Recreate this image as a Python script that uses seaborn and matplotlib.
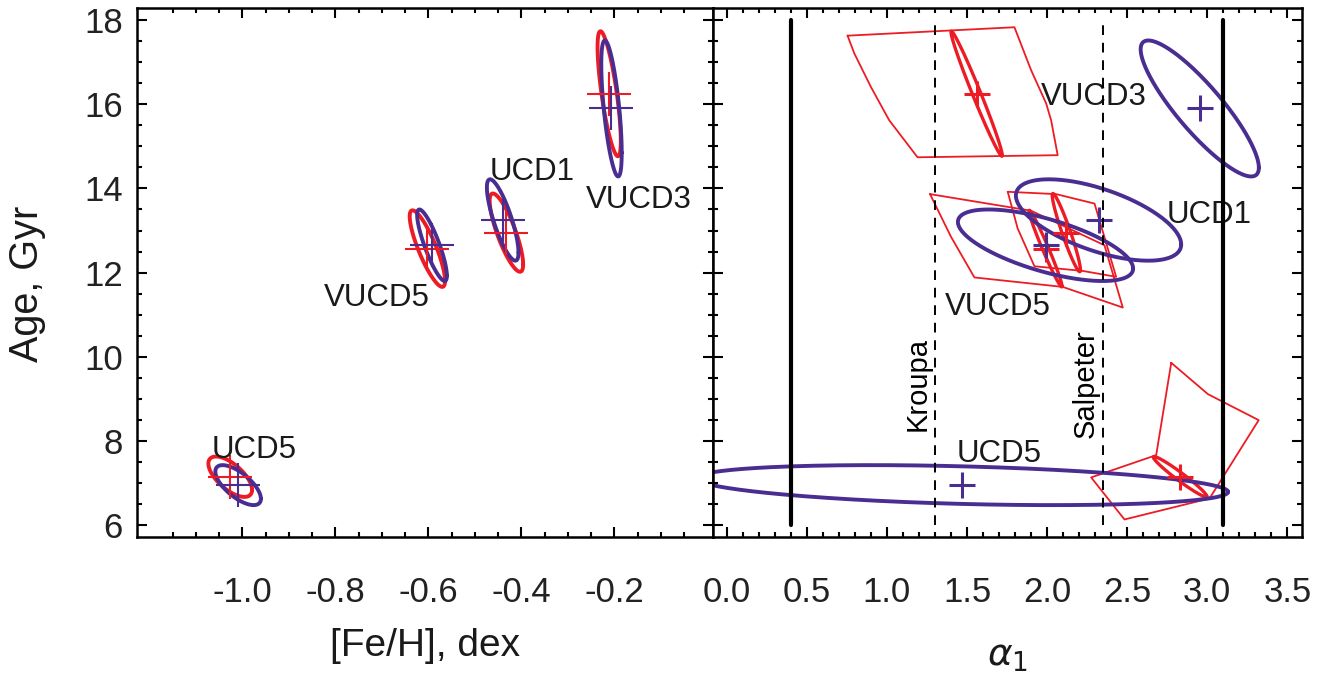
import numpy as np
import matplotlib
matplotlib.use('Agg')
import matplotlib.pyplot as plt
import seaborn as sns
from matplotlib.ticker import FixedLocator

# objects, in the order UCD5, VUCD5, UCD1, VUCD3
names = ['UCD5', 'VUCD5', 'UCD1', 'VUCD3']

# red solution
feh_red = [-1.026, -0.602, -0.432, -0.211]
age_red = [7.15, 12.57, 12.95, 16.25]
feh_err_red = [0.047, 0.038, 0.036, 0.025]
age_err_red = [0.48, 0.91, 0.93, 1.485]
rho_feh_red = [-0.65, -0.84, -0.81, -0.75]
alpha_red = [2.83, 1.99, 2.12, 1.56]
alpha_err_red = [0.167, 0.103, 0.088, 0.16]
rho_alpha_red = [-0.97, -0.98, -0.95, -0.985]

# blue solution
feh_blue = [-1.009, -0.592, -0.440, -0.206]
age_blue = [6.95, 12.65, 13.25, 15.9]
feh_err_blue = [0.049, 0.032, 0.034, 0.022]
age_err_blue = [0.475, 0.85, 0.967, 1.616]
rho_feh_blue = [-0.68, -0.85, -0.80, -0.65]
alpha_blue = [1.47, 1.99, 2.321, 2.953]
alpha_err_blue = [1.66, 0.547, 0.516, 0.369]
rho_alpha_blue = [-0.34, -0.65, -0.60, -0.87]

# red regions in the (alpha_1, age) plane
poly_alpha_ucd5 = [2.775, 3.004, 3.321, 3.014, 2.483, 2.275, 2.681, 2.775]
poly_age_ucd5 = [9.856, 9.112, 8.494, 6.633, 6.134, 7.133, 7.663, 9.856]
poly_alpha_vucd5 = [1.269, 1.900, 2.358, 2.4725, 2.0975, 1.546, 1.40, 1.269]
poly_age_vucd5 = [13.865, 13.47, 12.65, 11.17, 11.66, 11.885, 12.85, 13.865]
poly_alpha_ucd1 = [1.754, 2.056, 2.296, 2.431, 2.222, 1.921, 1.816, 1.754]
poly_age_ucd1 = [13.92, 13.865, 13.64, 11.90, 12.04, 12.15, 13.05, 13.92]
poly_alpha_vucd3 = [0.754, 1.796, 1.900, 1.994, 2.025, 2.066, 1.191, 1.014, 0.900, 0.796, 0.754]
poly_age_vucd3 = [17.63, 17.83, 16.81, 16.02, 15.62, 14.79, 14.74, 15.62, 16.41, 17.21, 17.63]

# label positions (left edge, baseline)
label_feh = [-1.065, -0.825, -0.469, -0.261]
label_age_left = [7.59, 11.2, 14.2, 13.53]
label_alpha = [1.434, 1.364, 2.744, 1.963]
label_age_right = [7.5, 10.99, 13.17, 15.98]

imf_alpha = [1.3, 2.35]
imf_names = ['Kroupa', 'Salpeter']
imf_label_age = [8.23, 8.07]
limit_alpha = [0.4, 3.1]

RED = '#ED1C24'
BLUE = '#4A2D91'


def ellipse(cx, cy, ex, ey, rho, n=300):
    t = np.linspace(0, 2 * np.pi, n)
    x = cx + ex * np.cos(t)
    y = cy + ey * (rho * np.cos(t) + np.sqrt(1 - rho ** 2) * np.sin(t))
    return x, y


sns.set_theme(style='ticks')
plt.rcParams['font.family'] = ['Liberation Sans', 'DejaVu Sans']
plt.rcParams['axes.unicode_minus'] = False
plt.rcParams['mathtext.fontset'] = 'dejavusans'

fig = plt.figure(figsize=(13.2, 6.81), dpi=100)
ax1 = fig.add_axes([0.1036, 0.211, 0.4368, 0.7768])
ax2 = fig.add_axes([0.5404, 0.211, 0.4458, 0.7768])

# left panel: [Fe/H] vs age
for i in range(len(names)):
    x, y = ellipse(feh_red[i], age_red[i], feh_err_red[i], age_err_red[i], rho_feh_red[i])
    ax1.plot(x, y, color=RED, lw=2.8, zorder=2)
for i in range(len(names)):
    x, y = ellipse(feh_blue[i], age_blue[i], feh_err_blue[i], age_err_blue[i], rho_feh_blue[i])
    ax1.plot(x, y, color=BLUE, lw=2.8, zorder=2)
sns.scatterplot(x=feh_red, y=age_red, marker='+', s=1000, color=RED, linewidth=1.5, ax=ax1, zorder=3)
sns.scatterplot(x=feh_blue, y=age_blue, marker='+', s=1000, color=BLUE, linewidth=1.5, ax=ax1, zorder=3)
for i, n in enumerate(names):
    ax1.text(label_feh[i], label_age_left[i], n, fontsize=22.5, color='#1a1a1a',
             ha='left', va='baseline')

# right panel: alpha_1 vs age
polys = [(poly_alpha_ucd5, poly_age_ucd5), (poly_alpha_vucd5, poly_age_vucd5),
         (poly_alpha_ucd1, poly_age_ucd1), (poly_alpha_vucd3, poly_age_vucd3)]
for pa, pg in polys:
    ax2.plot(pa, pg, color=RED, lw=1.3, zorder=2)
for i in range(len(names)):
    x, y = ellipse(alpha_red[i], age_red[i], alpha_err_red[i], age_err_red[i], rho_alpha_red[i])
    ax2.plot(x, y, color=RED, lw=2.4, zorder=2)
for i in range(len(names)):
    x, y = ellipse(alpha_blue[i], age_blue[i], alpha_err_blue[i], age_err_blue[i], rho_alpha_blue[i])
    ax2.plot(x, y, color=BLUE, lw=2.8, zorder=2)
sns.scatterplot(x=alpha_red, y=age_red, marker='+', s=330, color=RED, linewidth=2.2, ax=ax2, zorder=3)
sns.scatterplot(x=alpha_blue, y=age_blue, marker='+', s=330, color=BLUE, linewidth=2.2, ax=ax2, zorder=3)
for i, n in enumerate(names):
    ax2.text(label_alpha[i], label_age_right[i], n, fontsize=22.5, color='#1a1a1a',
             ha='left', va='baseline', zorder=3)
for a in limit_alpha:
    ax2.plot([a, a], [6, 18], color='black', lw=3, zorder=5)
for a, n, g in zip(imf_alpha, imf_names, imf_label_age):
    ax2.plot([a, a], [6, 18], color='black', lw=1.4, ls=(0, (5, 4)), zorder=5)
    ax2.text(a - 0.02, g, n, rotation=90, fontsize=21, color='black',
             ha='right', va='bottom', zorder=3)

# axes, ticks
for ax in (ax1, ax2):
    ax.set_ylim(5.71, 18.28)
    ax.yaxis.set_major_locator(FixedLocator(np.arange(6, 18.1, 2)))
    ax.yaxis.set_minor_locator(FixedLocator(np.arange(6, 18.1, 0.5)))
    ax.tick_params(which='both', direction='in', top=True, right=True,
                   width=1.5, colors='black', labelcolor='#222222', labelsize=25)
    ax.tick_params(which='major', length=7.5)
    ax.tick_params(which='minor', length=3.8)
    ax.tick_params(axis='x', pad=28)
    ax.tick_params(axis='y', pad=10)
    for s in ax.spines.values():
        s.set_linewidth(1.8)
        s.set_color('black')

ax1.set_xlim(-1.227, 0.013)
ax1.xaxis.set_major_locator(FixedLocator([-1.0, -0.8, -0.6, -0.4, -0.2]))
ax1.xaxis.set_minor_locator(FixedLocator(np.arange(-1.15, -0.01, 0.05)))
ax1.set_xticklabels(['-1.0', '-0.8', '-0.6', '-0.4', '-0.2'])
ax1.set_yticklabels(['6', '8', '10', '12', '14', '16', '18'])
ax1.set_xlabel('[Fe/H], dex', fontsize=28, color='#1a1a1a')
ax1.set_ylabel('Age, Gyr', fontsize=28.5, color='#1a1a1a')
ax1.xaxis.set_label_coords(0.5, -0.172)
ax1.yaxis.set_label_coords(-0.158, 0.48)

ax2.set_xlim(-0.084, 3.59)
ax2.xaxis.set_major_locator(FixedLocator(np.arange(0, 3.6, 0.5)))
ax2.xaxis.set_minor_locator(FixedLocator(np.arange(0, 3.6, 0.1)))
ax2.set_xticklabels(['0.0', '0.5', '1.0', '1.5', '2.0', '2.5', '3.0', '3.5'])
ax2.tick_params(axis='y', labelleft=False)
ax2.set_xlabel(r'$\alpha_{1}$', fontsize=27, color='#1a1a1a')
ax2.xaxis.set_label_coords(0.5, -0.19)

fig.savefig('out.png', dpi=100)
